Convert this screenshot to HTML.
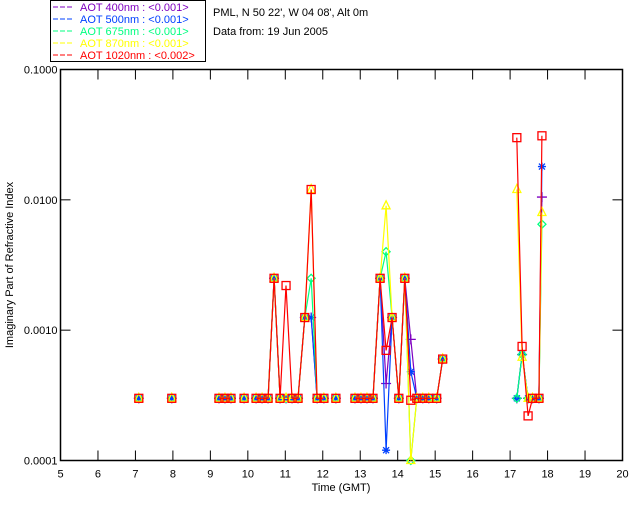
<!DOCTYPE html>
<html><head><meta charset="utf-8"><style>
body{margin:0;background:#fff;}
svg{display:block;font-family:"Liberation Sans",sans-serif;}
</style></head><body>
<svg id="chart" width="640" height="512" viewBox="0 0 640 512">
<rect width="640" height="512" fill="#fff"/>
<g id="legend">
<rect x="50.5" y="0.5" width="155" height="61" fill="#fff" stroke="#000"/>
</g>
<text x="213" y="16" font-size="11">PML, N 50 22', W 04 08', Alt 0m</text>
<text x="213" y="35" font-size="11">Data from: 19 Jun 2005</text>
<g id="axes"></g>
<g id="plot"></g>
<text x="341" y="491" font-size="11" text-anchor="middle">Time (GMT)</text>
<text transform="translate(13,265) rotate(-90)" font-size="11" text-anchor="middle">Imaginary Part of Refractive Index</text>
</svg>
<script>
const times = [7.09,7.97,9.23,9.39,9.55,9.9,10.22,10.38,10.54,10.7,10.86,11.02,11.18,11.34,11.52,11.69,11.85,12.03,12.35,12.86,13.02,13.18,13.34,13.53,13.69,13.85,14.03,14.19,14.35,14.51,14.67,14.83,15.04,15.2,17.18,17.32,17.48,17.6,17.77,17.85];
const aot400 = [0.0003,0.0003,0.0003,0.0003,0.0003,0.0003,0.0003,0.0003,0.0003,0.0025,0.0003,0.0003,0.0003,0.0003,0.00125,0.00125,0.0003,0.0003,0.0003,0.0003,0.0003,0.0003,0.0003,0.0025,0.00039,0.00125,0.0003,0.0025,0.00085,0.0003,0.0003,0.0003,0.0003,0.0006,0.0003,0.00065,0.0003,0.0003,0.0003,0.0105];
const aot500 = [0.0003,0.0003,0.0003,0.0003,0.0003,0.0003,0.0003,0.0003,0.0003,0.0025,0.0003,0.0003,0.0003,0.0003,0.00125,0.00125,0.0003,0.0003,0.0003,0.0003,0.0003,0.0003,0.0003,0.0025,0.00012,0.00125,0.0003,0.0025,0.00048,0.0003,0.0003,0.0003,0.0003,0.0006,0.0003,0.00065,0.0003,0.0003,0.0003,0.018];
const aot675 = [0.0003,0.0003,0.0003,0.0003,0.0003,0.0003,0.0003,0.0003,0.0003,0.0025,0.0003,0.0003,0.0003,0.0003,0.00125,0.0025,0.0003,0.0003,0.0003,0.0003,0.0003,0.0003,0.0003,0.0025,0.004,0.00125,0.0003,0.0025,0.0001,0.0003,0.0003,0.0003,0.0003,0.0006,0.0003,0.00065,0.0003,0.0003,0.0003,0.0065];
const aot870 = [0.0003,0.0003,0.0003,0.0003,0.0003,0.0003,0.0003,0.0003,0.0003,0.0025,0.0003,0.0003,0.0003,0.0003,0.00125,0.012,0.0003,0.0003,0.0003,0.0003,0.0003,0.0003,0.0003,0.0025,0.009,0.00125,0.0003,0.0025,0.0001,0.0003,0.0003,0.0003,0.0003,0.0006,0.012,0.00062,0.0003,0.0003,0.0003,0.008];
const aot1020 = [0.0003,0.0003,0.0003,0.0003,0.0003,0.0003,0.0003,0.0003,0.0003,0.0025,0.0003,0.0022,0.0003,0.0003,0.00125,0.012,0.0003,0.0003,0.0003,0.0003,0.0003,0.0003,0.0003,0.0025,0.0007,0.00125,0.0003,0.0025,0.00029,0.0003,0.0003,0.0003,0.0003,0.0006,0.03,0.00075,0.00022,0.0003,0.0003,0.031];
const xTicks = [5,6,7,8,9,10,11,12,13,14,15,16,17,18,19,20];
const yTicks = [0.0001,0.001,0.01,0.1];
const yTickLabels = ["0.0001","0.0010","0.0100","0.1000"];
const legendLabels = ["AOT  400nm : <0.001>","AOT  500nm : <0.001>","AOT  675nm : <0.001>","AOT  870nm : <0.001>","AOT 1020nm : <0.002>"];
const maxGap = 0.25;

const NS="http://www.w3.org/2000/svg";
const L=60.5,R=622.5,T=69.5,B=460.5;
function xs(t){return L+(t-5)/15*(R-L);}
function ys(v){return B-(Math.log10(v)+4)/3*(B-T);}
function mk(tag,attrs,parent){const e=document.createElementNS(NS,tag);for(const k in attrs)e.setAttribute(k,attrs[k]);parent.appendChild(e);return e;}
const axes=document.getElementById('axes'),plot=document.getElementById('plot'),legend=document.getElementById('legend');

let fr=mk('rect',{x:L,y:T,width:R-L,height:B-T,fill:'none',stroke:'#000','stroke-width':1.5},axes);


xTicks.forEach(t=>{
  const x=xs(t);
  let a=mk('line',{x1:x,x2:x,y1:B,y2:B-10,stroke:'#000'},axes);
  
  
  let b=mk('line',{x1:x,x2:x,y1:T,y2:T+10,stroke:'#000'},axes);
  
  
  let lb=mk('text',{x:x,y:B+17,'font-size':11,'text-anchor':'middle'},axes);
  lb.textContent=t;
  
  
});
yTicks.forEach((v,i)=>{
  const y=ys(v);
  let a=mk('line',{x1:L,x2:L+10,y1:y,y2:y,stroke:'#000'},axes);
  
  
  let b=mk('line',{x1:R,x2:R-10,y1:y,y2:y,stroke:'#000'},axes);
  
  
  let lb=mk('text',{x:L-3,y:y+4,'font-size':11,'text-anchor':'end'},axes);
  lb.textContent=yTickLabels[i];
  
  
});

const series=[
 {vals:aot400,color:'#7f00c0',m:'plus',name:'aot-400'},
 {vals:aot500,color:'#0040ff',m:'star',name:'aot-500'},
 {vals:aot675,color:'#00ff80',m:'diamond',name:'aot-675'},
 {vals:aot870,color:'#ffff00',m:'tri',name:'aot-870'},
 {vals:aot1020,color:'#ff0000',m:'square',name:'aot-1020'}];

series.forEach((s,si)=>{
  const y=11+si*12;
  let ln=mk('line',{x1:53,x2:72,y1:y-4,y2:y-4,stroke:s.color,'stroke-dasharray':'5,2'},legend);
  
  
  let tx=mk('text',{x:80,y:y,'font-size':11,fill:s.color,'xml:space':'preserve'},legend);
  tx.textContent=legendLabels[si];
  
  
});

series.forEach(s=>{
  const g=mk('g',{},plot);
  
  
  let d='';
  times.forEach((t,i)=>{
    const x=xs(t).toFixed(1),y=Math.max(T,Math.min(B,ys(s.vals[i]))).toFixed(1);
    const brk = i===0 || (t-times[i-1])>maxGap;
    d += (brk?'M':'L')+x+','+y;
  });
  let pl=mk('path',{d:d,fill:'none',stroke:s.color,'stroke-width':1.2},g);
  
  
  times.forEach((t,i)=>{
    const x=xs(t),y=Math.max(T,Math.min(B,ys(s.vals[i])));
    let e;
    if(s.m==='square')e=mk('rect',{x:x-4,y:y-4,width:8,height:8,fill:'none',stroke:s.color,'stroke-width':1.3},g);
    else if(s.m==='tri')e=mk('polygon',{points:`${x},${y-5} ${x-4},${y+3} ${x+4},${y+3}`,fill:'none',stroke:s.color,'stroke-width':1.3},g);
    else if(s.m==='diamond')e=mk('polygon',{points:`${x},${y-4} ${x+4},${y} ${x},${y+4} ${x-4},${y}`,fill:'none',stroke:s.color,'stroke-width':1.3},g);
    else if(s.m==='star')e=mk('path',{d:`M${x-4},${y}H${x+4}M${x},${y-4}V${y+4}M${x-3},${y-3}L${x+3},${y+3}M${x-3},${y+3}L${x+3},${y-3}`,stroke:s.color,'stroke-width':1.3},g);
    else e=mk('path',{d:`M${x-5},${y}H${x+5}M${x},${y-5}V${y+5}`,stroke:s.color,'stroke-width':1.3},g);
    
    
  });
});
</script>
</body></html>
